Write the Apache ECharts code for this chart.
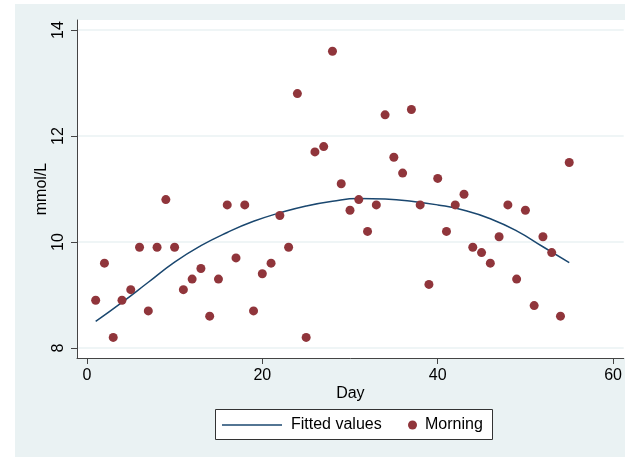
<!DOCTYPE html>
<html>
<head>
<meta charset="utf-8">
<script src="https://cdn.jsdelivr.net/npm/echarts@6/dist/echarts.min.js"></script>
<style>html,body{margin:0;padding:0;background:#fff}#c{width:625px;height:457px}</style>
</head>
<body>
<div id="c"></div>
<script>
// Morning readings (mmol/L) by day
var days = [1,2,3,4,5,6,7,8,9,10,11,12,13,14,15,16,17,18,19,20,21,22,23,24,25,26,27,28,29,30,31,32,33,34,35,36,37,38,39,40,41,42,43,44,45,46,47,48,49,50,51,52,53,54,55];
var morning = [8.9,9.6,8.2,8.9,9.1,9.9,8.7,9.9,10.8,9.9,9.1,9.3,9.5,8.6,9.3,10.7,9.7,10.7,8.7,9.4,9.6,10.5,9.9,12.8,8.2,11.7,11.8,13.6,11.1,10.6,10.8,10.2,10.7,12.4,11.6,11.3,12.5,10.7,9.2,11.2,10.2,10.7,10.9,9.9,9.8,9.6,10.1,10.7,9.3,10.6,8.8,10.1,9.8,8.6,11.5];
// Fitted values
var fitDays = [1,4,7,10,13,16,19,22,25,28,31,34,37,40,43,46,49,52,55];
var fitted = [8.50,8.86,9.24,9.62,9.93,10.18,10.39,10.55,10.68,10.77,10.82,10.81,10.77,10.70,10.60,10.44,10.21,9.91,9.61];
var xTicks = [0,20,40,60];
var yTicks = [8,10,12,14];

var scatterData = days.map(function(d,i){return [d, morning[i]];});
var fitData = fitDays.map(function(d,i){return [d, fitted[i]];});

var chart = echarts.init(document.getElementById('c'), null, {renderer:'canvas'});
var font = 'Liberation Sans, Arial, Helvetica, sans-serif';
chart.setOption({
  backgroundColor: '#ffffff',
  animation: false,
  graphic: [
    {type:'rect', z:-10, shape:{x:15,y:4,width:620,height:460}, style:{fill:'#EAF2F3'}},
    {type:'rect', z:-9, shape:{x:77,y:20,width:560,height:338}, style:{fill:'#ffffff'}},
    {type:'rect', z:10, shape:{x:215.5,y:409.5,width:277,height:30}, style:{fill:'#ffffff', stroke:'#333333', lineWidth:1}}
  ],
  grid: {left:77, top:20, width:553, height:338, containLabel:false},
  xAxis: {
    type:'value', min:-1.13, max:61.21,
    name:'Day', nameLocation:'middle', nameGap:28, nameMoveOverlap:false,
    nameTextStyle:{fontFamily:font, fontSize:16, color:'#000'},
    axisLine:{show:true, onZero:false, lineStyle:{color:'#444', width:1}},
    axisTick:{show:true, length:6, customValues:xTicks, lineStyle:{color:'#444'}},
    axisLabel:{customValues:xTicks, fontFamily:font, fontSize:16, color:'#000', margin:10},
    splitLine:{show:false}
  },
  yAxis: {
    type:'value', min:7.811, max:14.189,
    name:'mmol/L', nameLocation:'middle', nameGap:27, nameMoveOverlap:false,
    nameTextStyle:{fontFamily:font, fontSize:16, color:'#000'},
    axisLine:{show:true, onZero:false, lineStyle:{color:'#444', width:1}},
    axisTick:{show:true, length:6, customValues:yTicks, lineStyle:{color:'#444'}},
    axisLabel:{customValues:yTicks, rotate:90, fontFamily:font, fontSize:16, color:'#000', margin:10},
    splitLine:{show:true, lineStyle:{color:'#EAF2F3', width:1.5}}
  },
  legend: [
    {data:[{name:'Fitted values', icon:'rect'}], left:222, top:417, padding:0, itemWidth:60, itemHeight:1.5,
     textStyle:{fontFamily:font, fontSize:16, color:'#000', padding:[0,0,0,4]}, z:20},
    {data:[{name:'Morning', icon:'circle'}], left:408, top:417, padding:0, itemWidth:9, itemHeight:9,
     textStyle:{fontFamily:font, fontSize:16, color:'#000', padding:[0,0,0,3]}, z:20}
  ],
  series: [
    {name:'Fitted values', type:'line', data:fitData, smooth:true, showSymbol:false,
     lineStyle:{color:'#1A476F', width:1.5}, itemStyle:{color:'#1A476F'}, z:2},
    {name:'Morning', type:'scatter', data:scatterData, symbolSize:9,
     itemStyle:{color:'#90353B', opacity:1}, z:3}
  ]
});
</script>
</body>
</html>
